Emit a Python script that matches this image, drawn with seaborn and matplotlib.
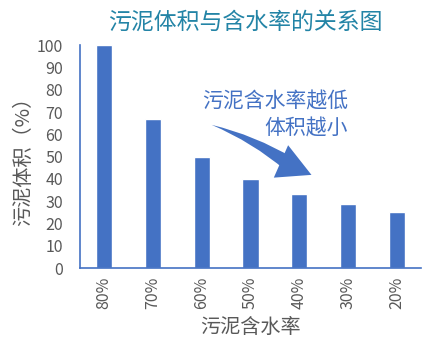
import matplotlib
matplotlib.use("Agg")
import matplotlib.pyplot as plt
import seaborn as sns
import pandas as pd
from matplotlib.patches import FancyArrowPatch

# data
moisture = ["80%", "70%", "60%", "50%", "40%", "30%", "20%"]
volume = [100, 66.7, 50, 40, 33.3, 28.6, 25]

blue = "#4472C4"
grey = "#595959"

sns.set_style("white")
plt.rcParams["font.family"] = ["Noto Sans CJK SC", "DejaVu Sans"]

df = pd.DataFrame({"moisture": moisture, "volume": volume})

fig = plt.figure(figsize=(4.41, 3.58), dpi=100)
ax = fig.add_axes([0.181, 0.251, 0.774, 0.623])

sns.barplot(data=df, x="moisture", y="volume", color=blue, saturation=1,
            width=0.33, ax=ax)

ax.set_ylim(0, 100)
ax.set_yticks(range(0, 101, 10))
ax.set_xlim(-0.5, len(moisture) - 0.5)
ax.tick_params(axis="both", length=0, labelsize=11.5, labelcolor=grey)
ax.tick_params(axis="x", rotation=90, pad=6)
ax.tick_params(axis="y", pad=12)

for s in ["top", "right"]:
    ax.spines[s].set_visible(False)
for s in ["left", "bottom"]:
    ax.spines[s].set_color(blue)
    ax.spines[s].set_linewidth(1.2)

ax.set_xlabel("污泥含水率", fontsize=14.5, color=grey, labelpad=6)
ax.set_ylabel("污泥体积（%）", fontsize=14.5, color=grey, labelpad=2)

fig.text(245 / 441, 1 - 22 / 358, "污泥体积与含水率的关系图", fontsize=16.5,
         color="#2384A6", ha="center", va="center")

fig.text(348 / 441, 1 - 102 / 358, "污泥含水率越低", fontsize=15,
         color=blue, ha="right", va="center")
fig.text(348 / 441, 1 - 129 / 358, "体积越小", fontsize=15,
         color=blue, ha="right", va="center")

# curved arrow: tapered shaft (wedge drawn backwards) + head
def fpt(x, y):
    return (x / 441, 1 - y / 358)

shaft = FancyArrowPatch(fpt(292, 166), fpt(209, 124),
                        transform=fig.transFigure,
                        connectionstyle="arc3,rad=0.08",
                        arrowstyle="wedge,tail_width=0.7,shrink_factor=0.5",
                        mutation_scale=15, color=blue, lw=0)
fig.patches.append(shaft)
head = FancyArrowPatch(fpt(280, 161), fpt(314, 176),
                       transform=fig.transFigure,
                       arrowstyle="simple,head_length=1.6,head_width=1.7,tail_width=0.3",
                       mutation_scale=15, color=blue, lw=0)
fig.patches.append(head)

fig.savefig("out.png", dpi=100)
